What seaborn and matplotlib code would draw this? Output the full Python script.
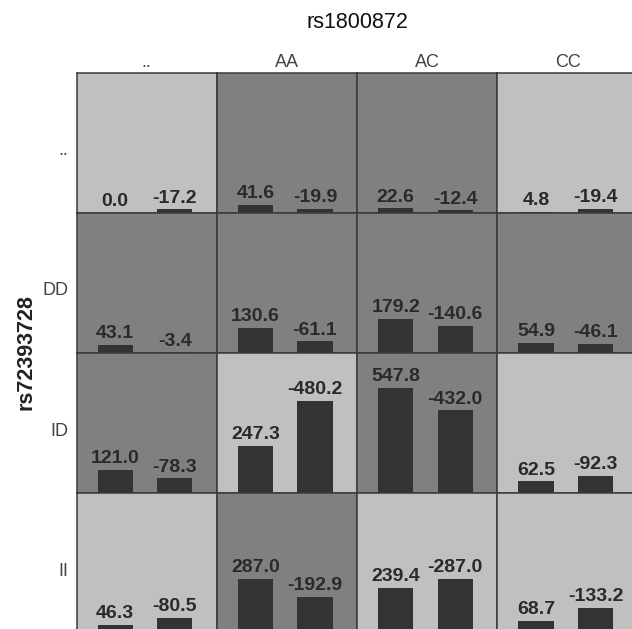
import pandas as pd
import matplotlib
matplotlib.use("Agg")
import matplotlib.pyplot as plt
import seaborn as sns

# genotype categories
col_genotypes = ['..', 'AA', 'AC', 'CC']      # rs1800872
row_genotypes = ['..', 'DD', 'ID', 'II']      # rs72393728

# first bar in each cell (row by row)
first_vals = [
    [0.0, 41.6, 22.6, 4.8],
    [43.1, 130.6, 179.2, 54.9],
    [121.0, 247.3, 547.8, 62.5],
    [46.3, 287.0, 239.4, 68.7],
]
# second bar in each cell
second_vals = [
    [-17.2, -19.9, -12.4, -19.4],
    [-3.4, -61.1, -140.6, -46.1],
    [-78.3, -480.2, -432.0, -92.3],
    [-80.5, -192.9, -287.0, -133.2],
]
# cell shading: 1 = light, 0 = dark
light_cell = [
    [1, 0, 0, 1],
    [0, 0, 0, 0],
    [0, 1, 0, 1],
    [1, 0, 1, 1],
]

rows = []
for i, rg in enumerate(row_genotypes):
    for j, cg in enumerate(col_genotypes):
        rows.append(dict(row=rg, col=cg, bar='a', value=first_vals[i][j]))
        rows.append(dict(row=rg, col=cg, bar='b', value=second_vals[i][j]))
df = pd.DataFrame(rows)
df['height'] = df['value'].abs()

sns.set_style('white')
plt.rcParams['font.family'] = ['Liberation Sans', 'DejaVu Sans']

W, H = 632, 629
fig = plt.figure(figsize=(W / 100, H / 100), dpi=100)

left, top, cell = 76.5, 72.5, 140.3


def fx(x):
    return x / W


def fy(y):
    return 1 - y / H


for i, rg in enumerate(row_genotypes):
    for j, cg in enumerate(col_genotypes):
        x0 = left + j * cell
        y0 = top + (i + 1) * cell
        ax = fig.add_axes([fx(x0), fy(y0), cell / W, cell / H])
        sub = df[(df['row'] == rg) & (df['col'] == cg)]
        sns.barplot(data=sub, x='bar', y='height', color='#333333',
                    saturation=1, width=0.588, errorbar=None,
                    linewidth=0, ax=ax)
        ax.set_xlim(-0.647, 1.706)
        ax.set_ylim(0, 731)
        ax.set_facecolor('#c0c0c0' if light_cell[i][j] else '#808080')
        for k, v in enumerate(sub['value']):
            ax.annotate(f'{v:.1f}', (k, abs(v)), xytext=(0, 2),
                        textcoords='offset points', ha='center', va='bottom',
                        fontsize=14, fontweight='bold', color='#2a2a2a')
        ax.set_xticks([])
        ax.set_yticks([])
        ax.set_xlabel('')
        ax.set_ylabel('')
        for sp in ax.spines.values():
            sp.set_color('#3a3a3a')
            sp.set_linewidth(1.1)

# column and row labels
for j, cg in enumerate(col_genotypes):
    fig.text(fx(left + (j + 0.5) * cell), fy(top - 5.5), cg, ha='center',
             va='baseline', fontsize=13, color='#444444')
for i, rg in enumerate(row_genotypes):
    fig.text(fx(68), fy(top + (i + 0.5) * cell + 8), rg, ha='right',
             va='center', fontsize=13, color='#444444')

fig.text(fx(357), fy(22.5), 'rs1800872', ha='center', va='center',
         fontsize=15.5, color='#111111')
fig.text(fx(26), fy(352), 'rs72393728', ha='center', va='center',
         rotation=90, fontsize=15.5, fontweight='bold', color='#222222')

fig.savefig('out.png', dpi=100)
